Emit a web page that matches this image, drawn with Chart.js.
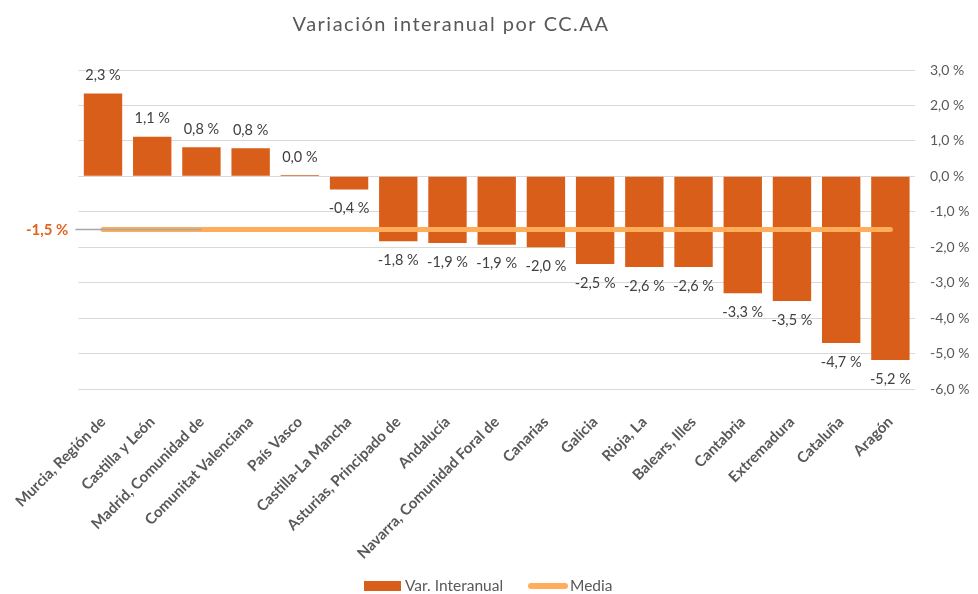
<!DOCTYPE html>
<html>
<head>
<meta charset="utf-8">
<script src="https://cdn.jsdelivr.net/npm/chart.js@4.4.0/dist/chart.umd.min.js"></script>
<style>
  html, body { margin: 0; padding: 0; background: #fff; }
  #wrap { width: 978px; height: 594px; }
</style>
</head>
<body>
<div id="wrap"><canvas id="chart"></canvas></div>
<script>
// ---- Data ----
const regions = [
  "Murcia, Región de", "Castilla y León", "Madrid, Comunidad de", "Comunitat Valenciana",
  "País Vasco", "Castilla-La Mancha", "Asturias, Principado de", "Andalucía",
  "Navarra, Comunidad Foral de", "Canarias", "Galicia", "Rioja, La",
  "Balears, Illes", "Cantabria", "Extremadura", "Cataluña", "Aragón"
];
const variation = [2.34, 1.12, 0.82, 0.79, 0.04, -0.37, -1.83, -1.88, -1.93, -2.0, -2.47, -2.56, -2.56, -3.3, -3.52, -4.7, -5.18];
const mediaValue = -1.5;
const media = regions.map(() => mediaValue);
const seriesNames = ["Var. Interanual", "Media"];

const BAR_COLOR = "#D95E1A";
const LINE_COLOR = "#FFAD5B";
const TEXT_GREY = "#595959";
const FONT = "Lato, 'Open Sans', sans-serif";

const fmtPct = v => `${v.toFixed(1).replace(".", ",")} %`;

// Title, data labels, average marker and legend
const overlay = {
  id: "overlay",
  afterDatasetsDraw(chart) {
    const { ctx, chartArea, scales } = chart;
    ctx.save();

    // bar value labels
    ctx.font = `14.5px ${FONT}`;
    ctx.fillStyle = "#404040";
    ctx.textAlign = "center";
    ctx.textBaseline = "middle";
    chart.getDatasetMeta(1).data.forEach((bar, i) => {
      const v = variation[i];
      const y = v >= 0 ? bar.y - 18 : bar.y + 19;
      ctx.fillText(fmtPct(v), bar.x, y);
    });

    // grey marker line + label for the average
    const yAvg = scales.y.getPixelForValue(mediaValue);
    ctx.strokeStyle = "#A6A6A6";
    ctx.lineWidth = 1.5;
    ctx.beginPath();
    ctx.moveTo(chartArea.left - 3, yAvg);
    ctx.lineTo(scales.x.getPixelForValue(2), yAvg);
    ctx.stroke();

    ctx.font = `bold 15px ${FONT}`;
    ctx.fillStyle = "#E0641E";
    ctx.textAlign = "right";
    ctx.fillText(fmtPct(mediaValue), chartArea.left - 10, yAvg + 1);

    // legend
    const ly = 586;
    ctx.font = `15.5px ${FONT}`;
    ctx.fillStyle = BAR_COLOR;
    ctx.fillRect(364, ly - 5, 37, 10);
    ctx.fillStyle = TEXT_GREY;
    ctx.textAlign = "left";
    ctx.fillText(seriesNames[0], 405, ly);
    ctx.strokeStyle = LINE_COLOR;
    ctx.lineWidth = 6;
    ctx.lineCap = "round";
    ctx.beginPath();
    ctx.moveTo(531, ly);
    ctx.lineTo(565, ly);
    ctx.stroke();
    ctx.fillText(seriesNames[1], 570, ly);

    // title
    ctx.font = `20px ${FONT}`;
    ctx.textAlign = "center";
    ctx.letterSpacing = "1.5px";
    ctx.fillText("Variación interanual por CC.AA", 451, 25);
    ctx.restore();
  }
};

new Chart(document.getElementById("chart"), {
  data: {
    labels: regions,
    datasets: [
      {
        type: "line",
        label: seriesNames[1],
        data: media,
        borderColor: LINE_COLOR,
        borderWidth: 5,
        borderCapStyle: "round",
        pointRadius: 0,
        order: 1,
      },
      {
        type: "bar",
        label: seriesNames[0],
        data: variation,
        backgroundColor: BAR_COLOR,
        categoryPercentage: 1,
        barPercentage: 0.78,
        order: 2,
      },
    ],
  },
  options: {
    responsive: true,
    maintainAspectRatio: false,
    animation: false,
    layout: { padding: { left: 78, top: 70, right: 0, bottom: 0 } },
    plugins: {
      tooltip: { enabled: false },
      legend: { display: false },
    },
    scales: {
      x: {
        grid: { display: false },
        border: { display: false },
        ticks: {
          autoSkip: false,
          minRotation: 45,
          maxRotation: 45,
          padding: 16,
          color: TEXT_GREY,
          font: { family: FONT, size: 15, weight: "bold" },
        },
        afterFit: s => { s.height = 205; },
      },
      y: {
        position: "right",
        min: -6,
        max: 3,
        grid: { color: "#D9D9D9", drawTicks: false },
        border: { display: false },
        ticks: {
          stepSize: 1,
          padding: 15,
          color: TEXT_GREY,
          font: { family: FONT, size: 14 },
          callback: v => fmtPct(v),
        },
        afterFit: s => { s.width = 63; },
      },
    },
  },
  plugins: [overlay],
});
</script>
</body>
</html>
